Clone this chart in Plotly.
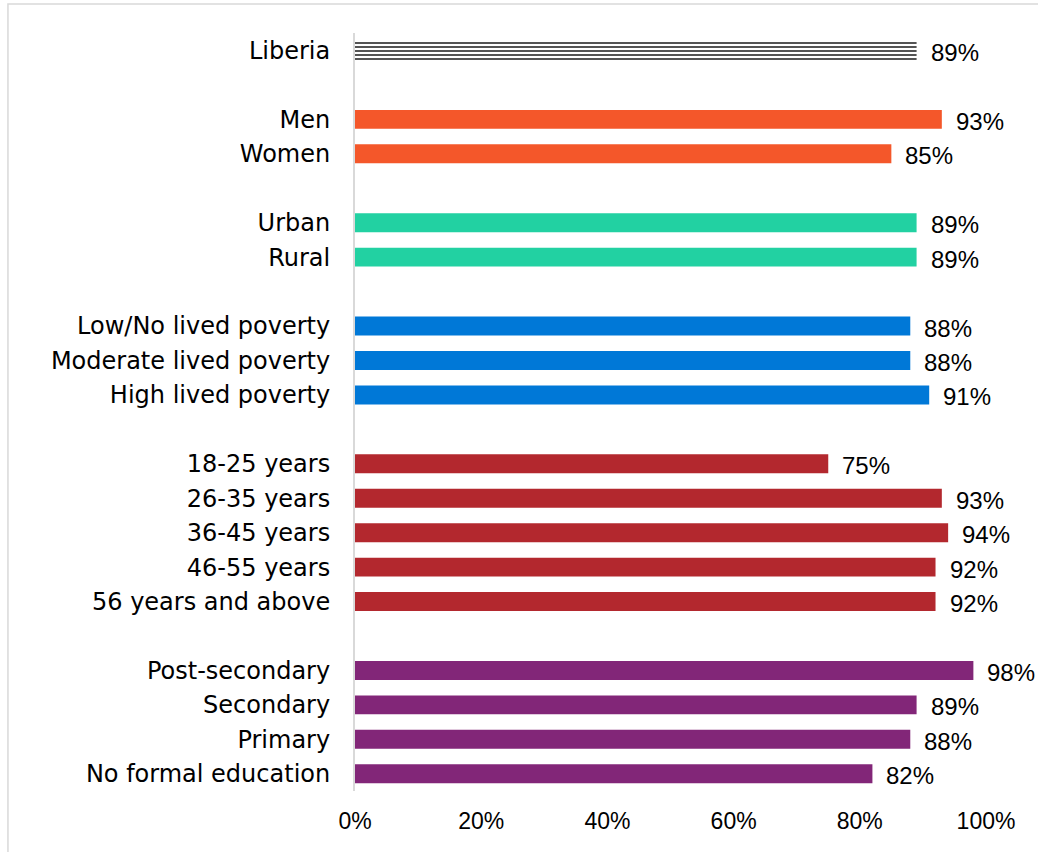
import plotly.graph_objects as go

categories = ["Liberia", " ", "Men", "Women", "  ", "Urban", "Rural", "   ",
              "Low/No lived poverty", "Moderate lived poverty", "High lived poverty", "    ",
              "18-25 years", "26-35 years", "36-45 years", "46-55 years", "56 years and above", "     ",
              "Post-secondary", "Secondary", "Primary", "No formal education"]

groups = {
    "Liberia": (["Liberia"], [89]),
    "Gender": (["Men", "Women"], [93, 85]),
    "Location": (["Urban", "Rural"], [89, 89]),
    "Poverty": (["Low/No lived poverty", "Moderate lived poverty", "High lived poverty"], [88, 88, 91]),
    "Age": (["18-25 years", "26-35 years", "36-45 years", "46-55 years", "56 years and above"], [75, 93, 94, 92, 92]),
    "Education": (["Post-secondary", "Secondary", "Primary", "No formal education"], [98, 89, 88, 82]),
}
colors = {
    "Gender": "#F4572A",
    "Location": "#22D1A2",
    "Poverty": "#0078D7",
    "Age": "#B3282E",
    "Education": "#822678",
}
x_ticks = [0, 20, 40, 60, 80, 100]
x_tick_labels = ["0%", "20%", "40%", "60%", "80%", "100%"]

fig = go.Figure()
for name, (cats, vals) in groups.items():
    if name == "Liberia":
        marker = dict(color="white",
                      pattern=dict(shape="-", fgcolor="#404040", bgcolor="white",
                                   size=4, solidity=0.45, fillmode="replace"),
                      line=dict(width=0))
    else:
        marker = dict(color=colors[name], line=dict(width=0))
    fig.add_trace(go.Bar(x=vals, y=cats, orientation="h", marker=marker,
                         showlegend=False, hoverinfo="skip"))
    for c, v in zip(cats, vals):
        fig.add_annotation(x=v, y=c, text=f"{v}%", showarrow=False,
                           xanchor="left", yanchor="middle", xshift=12, yshift=-2,
                           font=dict(family="Liberation Sans", size=24, color="#000000"))

fig.add_shape(type="rect", xref="paper", yref="paper",
              x0=-0.55, x1=1.3, y0=-0.3, y1=1.0383,
              line=dict(color="#d9d9d9", width=1.5), fillcolor="rgba(0,0,0,0)", layer="below")

fig.update_layout(
    width=1038, height=852,
    margin=dict(l=355, r=52, t=33, b=61),
    paper_bgcolor="white", plot_bgcolor="white",
    bargap=0.45,
    xaxis=dict(range=[0, 100], tickmode="array", tickvals=x_ticks, ticktext=x_tick_labels,
               showgrid=False, zeroline=False, showline=False, ticklabelstandoff=14,
               tickfont=dict(family="Liberation Sans", size=23, color="#000000")),
    yaxis=dict(categoryorder="array", categoryarray=categories, autorange="reversed",
               showgrid=False, zeroline=False, showline=True, linecolor="#d9d9d9", linewidth=2,
               ticklabelstandoff=18,
               tickfont=dict(family="DejaVu Sans", size=24, color="#000000")),
)

fig.write_html("out.html")
